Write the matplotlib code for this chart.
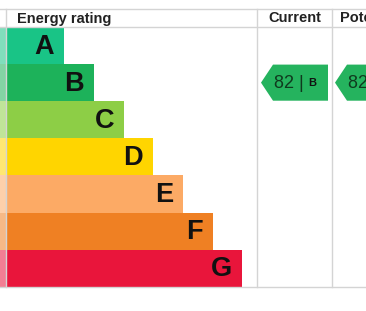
import matplotlib.pyplot as plt
from matplotlib.patches import Polygon

# dades del gràfic
ratings = ['A', 'B', 'C', 'D', 'E', 'F', 'G']
bar_colors = ['#19c486', '#1db25a', '#8dce46', '#ffd500', '#fcaa65', '#ef8023', '#e9153b']
bar_ends = [64, 94, 124, 153, 183, 213, 242]      # final de cada barra (px)
headers = ['Energy rating', 'Current', 'Potential']
current_score = 82
current_band = 'B'
potential_score = 82
potential_band = 'B'

W, H = 366, 311
top, head_bot, row_h = 9, 27, 37.1
bar_left, strip = 7, 6
col1, col2 = 257, 332

fig = plt.figure(figsize=(W / 100, H / 100), dpi=100)
ax = fig.add_axes([0, 0, 1, 1])
ax.set_xlim(0, W)
ax.set_ylim(H, 0)
ax.axis('off')

bottom = head_bot + row_h * len(ratings)

# barres
for i, (r, c, e) in enumerate(zip(ratings, bar_colors, bar_ends)):
    y0 = head_bot + i * row_h
    ax.barh(y0, e - bar_left, left=bar_left, height=row_h, align='edge', color=c, lw=0)
    ax.barh(y0, strip, left=0, height=row_h, align='edge', color=c, alpha=0.55, lw=0)
    ax.text(e - 10, y0 + row_h / 2 + 1, r, ha='right', va='center', fontsize=19.5,
            fontweight='bold', family='Liberation Sans', color='#111111')

# línies de la graella
lc = '#d4d4d4'
for y in [top, head_bot, bottom]:
    ax.plot([0, W], [y, y], color=lc, lw=1)
for x in [strip, col1, col2]:
    ax.plot([x, x], [top, bottom], color=lc, lw=1)

# capçaleres
hkw = dict(va='center', fontsize=10.5, fontweight='bold', family='Liberation Sans',
           color='#222222')
ax.text(17, 18.5, headers[0], ha='left', **hkw)
ax.text((col1 + col2) / 2, 18.5, headers[1], ha='center', **hkw)
ax.text(col2 + 8, 18.5, headers[2], ha='left', **hkw)


def arrow(x_tip, score, band, width=67):
    i = ratings.index(band)
    y0 = head_bot + i * row_h
    y1 = y0 + row_h
    ym = (y0 + y1) / 2
    pts = [(x_tip, ym), (x_tip + 12, y0 + 0.5), (x_tip + width, y0 + 0.5),
           (x_tip + width, y1 - 0.5), (x_tip + 12, y1 - 0.5)]
    ax.add_patch(Polygon(pts, closed=True, color='#25b35e', lw=0))
    ax.text(x_tip + 13, ym + 0.5, f'{score} |', ha='left', va='center', fontsize=13,
            family='Liberation Sans', color='#0f3a1e')
    ax.text(x_tip + 47, ym + 0.5, band, ha='left', va='center', fontsize=8,
            fontweight='bold', family='Liberation Sans', color='#111111')


arrow(261, current_score, current_band)
arrow(335, potential_score, potential_band)

fig.savefig('out.png', dpi=100, facecolor='white')
